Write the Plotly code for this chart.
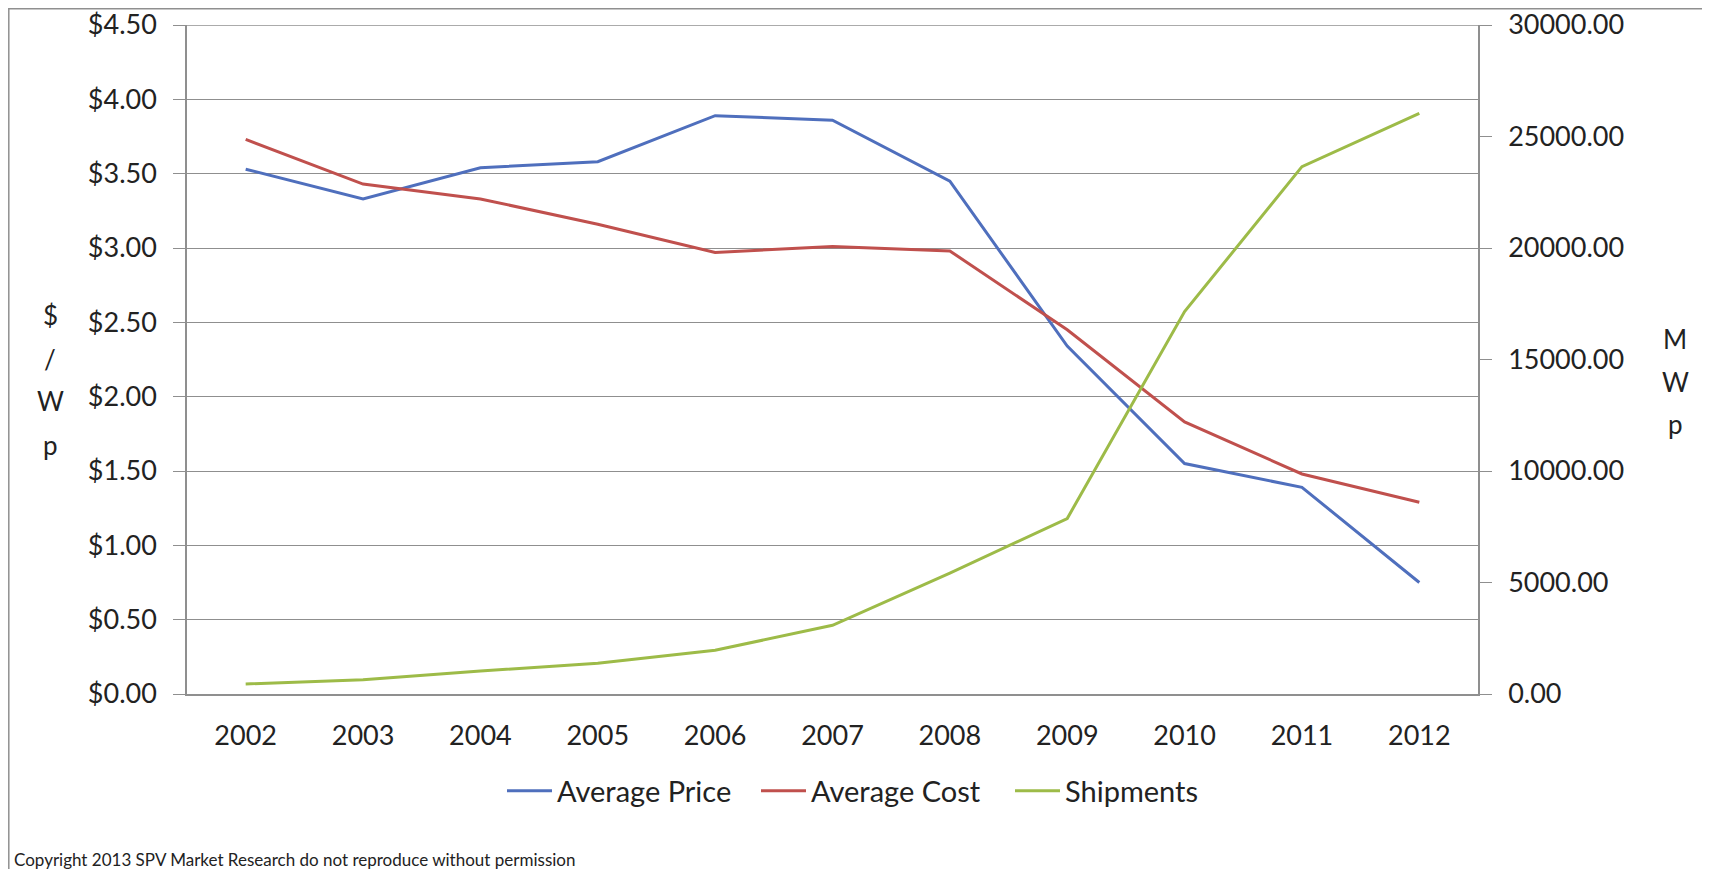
import plotly.graph_objects as go

years = ["2002", "2003", "2004", "2005", "2006", "2007", "2008", "2009", "2010", "2011", "2012"]
avg_price = [3.53, 3.33, 3.54, 3.58, 3.89, 3.86, 3.45, 2.34, 1.55, 1.39, 0.75]
avg_cost = [3.73, 3.43, 3.33, 3.16, 2.97, 3.01, 2.98, 2.45, 1.83, 1.48, 1.29]
shipments = [450, 640, 1030, 1380, 1960, 3080, 5420, 7870, 17150, 23650, 26040]
y_max = 4.5

OFF = 8  # page body margin
W, H = 1710 - OFF, 869 - OFF
L, R, T, B = 187 - OFF, 1478 - OFF, 25 - OFF, 694 - OFF  # plot area in figure pixels


def px(x):
    return (x - OFF - L) / (R - L)


def py(y):
    return (B - (y - OFF)) / (B - T)


FONT = "Lato"
GRID = "#8f8f8f"
fig = go.Figure()
fig.add_trace(go.Scatter(x=years, y=avg_price, name="Average Price", mode="lines",
                         line=dict(color="#4F6FBD", width=3)))
fig.add_trace(go.Scatter(x=years, y=avg_cost, name="Average Cost", mode="lines",
                         line=dict(color="#C0504D", width=3)))
fig.add_trace(go.Scatter(x=years, y=shipments, name="Shipments", mode="lines", yaxis="y2",
                         line=dict(color="#9DBB48", width=3)))

fig.update_layout(
    width=W, height=H,
    margin=dict(l=L, r=W - R, t=T, b=H - B, pad=0, autoexpand=False),
    paper_bgcolor="white", plot_bgcolor="white",
    font=dict(family=FONT, size=27, color="#222222"),
    showlegend=True,
    legend=dict(orientation="h", x=px(502), xanchor="left", y=py(791), yanchor="middle",
                font=dict(size=29), itemwidth=45, tracegroupgap=0,
                entrywidth=194, entrywidthmode="pixels"),
    xaxis=dict(type="category", range=[-0.5, 10.5], showgrid=False, showline=True,
               linecolor=GRID, linewidth=1.5, ticks="", tickfont=dict(size=27),
               ticklabelstandoff=17),
    yaxis=dict(range=[0, y_max], tickmode="linear", tick0=0, dtick=0.5, tickprefix="$",
               tickformat=".2f", ticklabeloverflow="allow",
               showgrid=True, gridcolor=GRID, gridwidth=1.3, showline=True,
               linecolor=GRID, linewidth=1.5, ticks="outside", ticklen=12,
               tickcolor=GRID, tickfont=dict(size=27), ticklabelstandoff=11,
               zeroline=False),
    yaxis2=dict(range=[0, 30000], tickmode="linear", tick0=0, dtick=5000, tickformat=".2f",
                overlaying="y", side="right", ticklabeloverflow="allow",
                showgrid=False, showline=True, linecolor=GRID, linewidth=1.5,
                ticks="outside", ticklen=12, tickcolor=GRID, tickfont=dict(size=27),
                ticklabelstandoff=11, zeroline=False),
)

# top gridline at the range end
fig.add_shape(type="line", xref="paper", yref="y", x0=0, x1=1, y0=y_max, y1=y_max,
              line=dict(color=GRID, width=1.3), layer="below")

left_title = ["$", "/", "W", "p"]
left_title_y = [315, 359, 401, 445]
for ch, yy in zip(left_title, left_title_y):
    fig.add_annotation(text=ch, xref="paper", yref="paper", x=px(50), y=py(yy),
                       showarrow=False, font=dict(size=26), xanchor="center", yanchor="middle")
right_title = ["M", "W", "p"]
right_title_y = [339, 382, 424]
for ch, yy in zip(right_title, right_title_y):
    fig.add_annotation(text=ch, xref="paper", yref="paper", x=px(1675), y=py(yy),
                       showarrow=False, font=dict(size=26), xanchor="center", yanchor="middle")

fig.add_annotation(text="Copyright 2013 SPV Market Research do not reproduce without permission",
                   xref="paper", yref="paper", x=px(12), y=py(859), xanchor="left", yanchor="middle",
                   showarrow=False, font=dict(size=17))

# chart-area frame (top, left, right)
fig.add_shape(type="line", xref="paper", yref="paper", x0=px(OFF + 0.5), x1=px(1705), y0=py(OFF + 0.8), y1=py(OFF + 0.8),
              line=dict(color=GRID, width=1.5), layer="below")
fig.add_shape(type="line", xref="paper", yref="paper", x0=px(OFF + 0.8), x1=px(OFF + 0.8), y0=py(OFF), y1=py(880),
              line=dict(color=GRID, width=1.5), layer="below")
fig.add_shape(type="line", xref="paper", yref="paper", x0=px(1705), x1=px(1705), y0=py(OFF), y1=py(880),
              line=dict(color=GRID, width=1.5), layer="below")

fig.write_html("out.html")
